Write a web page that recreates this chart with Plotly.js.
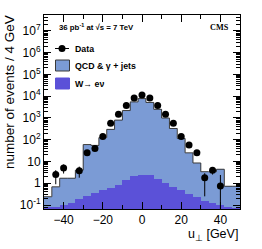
<!DOCTYPE html>
<html><head><meta charset="utf-8">
<script src="https://cdn.plot.ly/plotly-3.0.1.min.js"></script>
<style>html,body{margin:0;padding:0;background:#fff}#chart{width:262px;height:249px}</style>
</head><body><div id="chart"></div>
<script>
// bin centres of u_perp (GeV), 4 GeV bins
const binCenters = [-48,-44,-40,-36,-32,-28,-24,-20,-16,-12,-8,-4,0,4,8,12,16,20,24,28,32,36,40,44,48];
// stacked simulation (events / 4 GeV)
const qcdGammaJets = [0.16,0.6,1.6,1.57,3.8,59.7,54.6,124.5,299,799,2199,5498,7798,5198,2498,999,329,114.5,24.7,8.3,3.24,3.27,4.3,0.64,0.65];
const wToENu = [0.08,0.085,0.1,0.13,0.18,0.27,0.35,0.47,0.63,0.87,1.35,2.1,2.5,2.3,1.6,1.05,0.7,0.48,0.33,0.24,0.16,0.13,0.1,0.085,0.075];
// data points
const dataCounts = [null,2.5,5,null,3.8,25,40,140,570,1500,3800,8300,11500,8300,3800,1500,570,140,58,25,1.8,4,0.75,null,null];
const dataErrUp = [null,1.5,2.3,null,2,5,6.3,12,24,39,62,91,107,91,62,39,24,12,7.6,5,1.1,1.5,1.65,null,null];
const dataErrDown = [null,1.6,2.2,null,2,5,6.3,12,24,39,62,91,107,91,62,39,24,12,7.6,5,1.55,1.5,0.745,null,null];
// axis ticks
const yTickValues = [0.1,1,10,100,1e3,1e4,1e5,1e6,1e7];
const yTickLabels = ['10<sup>-1</sup>','1','10','10<sup>2</sup>','10<sup>3</sup>','10<sup>4</sup>','10<sup>5</sup>','10<sup>6</sup>','10<sup>7</sup>'];

const binWidth = 4;
const totals = binCenters.map((c,i)=>qcdGammaJets[i]+wToENu[i]);
const edges = binCenters.map(c=>c-binWidth/2).concat([binCenters[binCenters.length-1]+binWidth/2]);
const outlineY = totals.concat([totals[totals.length-1]]);

const minorY = [];
for (let e=-2;e<=7;e++){ for(let m=2;m<=9;m++){ minorY.push(m*Math.pow(10,e)); } }

const cQCD = '#7b9bd5', cW = '#5b51d8', cLine = '#3a3a3a';
const F = 'Liberation Sans, Arial, sans-serif';

const traces = [
  {type:'bar', x:binCenters, y:wToENu, width:binWidth, marker:{color:cW, line:{width:0}}, name:'W→ eν', showlegend:false, hoverinfo:'skip'},
  {type:'bar', x:binCenters, y:qcdGammaJets, width:binWidth, marker:{color:cQCD, line:{width:0}}, name:'QCD & γ + jets', showlegend:false, hoverinfo:'skip'},
  {type:'scatter', mode:'lines', x:edges, y:outlineY, line:{shape:'hv', color:cLine, width:1}, showlegend:false, hoverinfo:'skip'},
  {type:'scatter', mode:'markers', x:binCenters, y:dataCounts, marker:{color:'black', size:7},
   error_y:{type:'data', symmetric:false, array:dataErrUp, arrayminus:dataErrDown, color:'black', thickness:1, width:0},
   name:'Data', showlegend:false}
];

const px = v => (v-44)/196;     // pixel -> paper x
const py = v => (209-v)/194;    // pixel -> paper y

const layout = {
  width:262, height:249,
  margin:{l:44, r:22, t:15, b:40, pad:0},
  paper_bgcolor:'white', plot_bgcolor:'white',
  barmode:'stack', bargap:0,
  showlegend:false,
  font:{family:F, color:'black'},
  xaxis:{range:[-50,50], tickmode:'linear', tick0:0, dtick:20, ticks:'inside', ticklen:7, tickcolor:'black',
    showline:true, linecolor:'black', linewidth:1, mirror:'ticks', showgrid:false, zeroline:false,
    tickfont:{size:12, family:F},
    minor:{tickmode:'linear', tick0:0, dtick:10, ticks:'inside', ticklen:4, tickcolor:'black', showgrid:false}},
  yaxis:{type:'log', range:[-1.184, 7.735], tickmode:'array', tickvals:yTickValues, ticktext:yTickLabels,
    ticks:'inside', ticklen:7, tickcolor:'black', showline:true, linecolor:'black', linewidth:1, mirror:'ticks',
    showgrid:false, zeroline:false, tickfont:{size:12, family:F},
    minor:{tickmode:'array', tickvals:minorY, ticks:'inside', ticklen:4, tickcolor:'black', showgrid:false}},
  shapes:[
    {type:'line', xref:'paper', yref:'paper', x0:px(55), x1:px(69), y0:py(48.5), y1:py(48.5), line:{color:'black', width:1}},
    {type:'circle', xref:'paper', yref:'paper', xsizemode:'pixel', ysizemode:'pixel', xanchor:px(62), yanchor:py(48.5),
      x0:-3.5, x1:3.5, y0:-3.5, y1:3.5, fillcolor:'black', line:{width:0}},
    {type:'rect', xref:'paper', yref:'paper', x0:px(55.5), x1:px(69.5), y0:py(71), y1:py(60), fillcolor:cQCD, line:{color:cLine, width:1}},
    {type:'rect', xref:'paper', yref:'paper', x0:px(55.5), x1:px(69.5), y0:py(89), y1:py(78), fillcolor:cW, line:{color:cW, width:1}}
  ],
  annotations:[
    {xref:'paper', yref:'paper', x:px(57), y:py(27), xanchor:'left', yanchor:'middle', showarrow:false,
      text:'<b>36 pb<sup>-1</sup> at √s = 7 TeV</b>', font:{size:7.8, family:F}},
    {xref:'paper', yref:'paper', x:px(231), y:py(27), xanchor:'right', yanchor:'middle', showarrow:false,
      text:'<b>CMS</b>', font:{size:8.2, family:'Liberation Serif, Times New Roman, serif'}},
    {xref:'paper', yref:'paper', x:px(72.5), y:py(48.5), xanchor:'left', yanchor:'middle', showarrow:false,
      text:'<b>Data</b>', font:{size:8.8, family:F}},
    {xref:'paper', yref:'paper', x:px(72.5), y:py(65.5), xanchor:'left', yanchor:'middle', showarrow:false,
      text:'<b>QCD & γ + jets</b>', font:{size:8.8, family:F}},
    {xref:'paper', yref:'paper', x:px(72.5), y:py(83.5), xanchor:'left', yanchor:'middle', showarrow:false,
      text:'<b>W→ eν</b>', font:{size:8.8, family:F}},
    {xref:'paper', yref:'paper', x:px(9), y:py(13), xanchor:'center', yanchor:'top', textangle:-90, showarrow:false,
      text:'number of events / 4 GeV', font:{size:13.5, family:F}},
    {xref:'paper', yref:'paper', x:px(240), y:py(235), xanchor:'right', yanchor:'middle', showarrow:false,
      text:'u<sub>⊥</sub> [GeV]', font:{size:12.5, family:F}}
  ]
};

Plotly.newPlot('chart', traces, layout, {staticPlot:true, displayModeBar:false});
</script>
</body></html>
